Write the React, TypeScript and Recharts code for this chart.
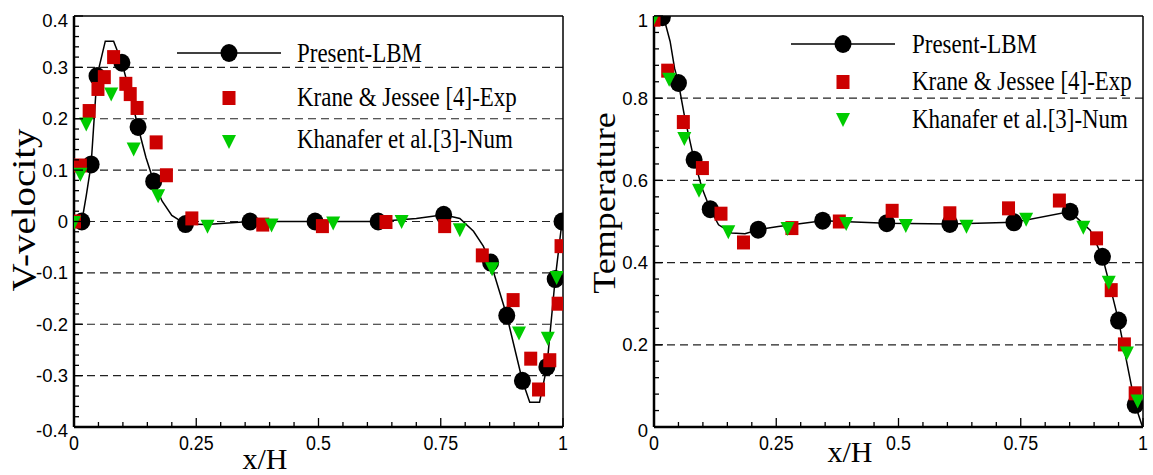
import React from 'react';
import { ScatterChart, Scatter, XAxis, YAxis, ReferenceLine, Legend } from 'recharts';

type Pt = [number, number];

// ---- V-velocity panel (left) ----
const vLbmMarks: Pt[] = [
  [0.016, 0], [0.035, 0.111], [0.047, 0.283], [0.098, 0.309], [0.131, 0.184],
  [0.163, 0.078], [0.228, -0.005], [0.36, 0], [0.493, 0], [0.622, 0],
  [0.756, 0.013], [0.852, -0.08], [0.885, -0.183], [0.917, -0.31], [0.967, -0.283],
  [0.984, -0.112], [0.998, 0],
];
const vLbmCurve: Pt[] = [
  [0.016, 0], [0.025, 0.05], [0.035, 0.111], [0.047, 0.283], [0.064, 0.351],
  [0.081, 0.351], [0.098, 0.309], [0.115, 0.248], [0.131, 0.184], [0.147, 0.125],
  [0.163, 0.078], [0.18, 0.04], [0.2, 0.012], [0.228, -0.005], [0.27, -0.006],
  [0.36, 0], [0.493, 0], [0.622, 0], [0.7, 0.006], [0.756, 0.013], [0.789, 0.006],
  [0.817, -0.019], [0.837, -0.048], [0.852, -0.08], [0.885, -0.183], [0.917, -0.31],
  [0.932, -0.352], [0.952, -0.352], [0.967, -0.283], [0.984, -0.112], [0.998, 0],
];
const vKrane: Pt[] = [
  [0.001, 0], [0.013, 0.109], [0.031, 0.215], [0.049, 0.258], [0.062, 0.281],
  [0.081, 0.32], [0.106, 0.268], [0.115, 0.248], [0.129, 0.221], [0.168, 0.154],
  [0.189, 0.09], [0.241, 0.006], [0.386, -0.006], [0.508, -0.009], [0.638, -0.001],
  [0.758, -0.009], [0.835, -0.066], [0.898, -0.153], [0.934, -0.267], [0.95, -0.327],
  [0.973, -0.27], [0.99, -0.16], [0.996, -0.048],
];
const vKhanafer: Pt[] = [
  [0, -0.003], [0.013, 0.091], [0.025, 0.189], [0.076, 0.247], [0.122, 0.14],
  [0.172, 0.049], [0.273, -0.01], [0.404, -0.008], [0.53, -0.004], [0.67, -0.001],
  [0.789, -0.017], [0.855, -0.093], [0.91, -0.218], [0.969, -0.228], [0.987, -0.11],
];

// ---- Temperature panel (right) ----
const tLbmMarks: Pt[] = [
  [0.017, 0.997], [0.05, 0.837], [0.082, 0.65], [0.115, 0.53], [0.213, 0.48],
  [0.345, 0.502], [0.476, 0.496], [0.605, 0.494], [0.736, 0.498], [0.851, 0.524],
  [0.917, 0.414], [0.95, 0.259], [0.984, 0.054],
];
const tLbmCurve: Pt[] = [
  [0.005, 1], [0.017, 0.997], [0.022, 0.987], [0.033, 0.938], [0.042, 0.873],
  [0.05, 0.837], [0.063, 0.752], [0.082, 0.65], [0.098, 0.582], [0.115, 0.53],
  [0.132, 0.492], [0.159, 0.472], [0.186, 0.47], [0.213, 0.48], [0.254, 0.488],
  [0.282, 0.492], [0.345, 0.502], [0.476, 0.496], [0.605, 0.494], [0.736, 0.498],
  [0.851, 0.524], [0.892, 0.479], [0.917, 0.414], [0.933, 0.341], [0.95, 0.259],
  [0.984, 0.054], [0.999, 0],
];
const tKrane: Pt[] = [
  [0, 0.991], [0.028, 0.867], [0.06, 0.742], [0.099, 0.63], [0.137, 0.519],
  [0.183, 0.449], [0.282, 0.484], [0.379, 0.5], [0.487, 0.526], [0.605, 0.52],
  [0.725, 0.532], [0.829, 0.551], [0.905, 0.459], [0.935, 0.333], [0.962, 0.201],
  [0.984, 0.082],
];
const tKhanafer: Pt[] = [
  [0, 0.995], [0.031, 0.845], [0.062, 0.701], [0.092, 0.575], [0.152, 0.474],
  [0.273, 0.482], [0.393, 0.494], [0.515, 0.489], [0.639, 0.487], [0.761, 0.504],
  [0.878, 0.485], [0.93, 0.351], [0.967, 0.179], [0.989, 0.062],
];

const xMajor = [0, 0.25, 0.5, 0.75, 1];
const vMajor = [-0.4, -0.3, -0.2, -0.1, 0, 0.1, 0.2, 0.3, 0.4];
const tMajor = [0, 0.2, 0.4, 0.6, 0.8, 1];
const seriesNames = ['Present-LBM', 'Krane & Jessee [4]-Exp', 'Khanafer et al.[3]-Num'];

const RED = '#cc0000';
const GREEN = '#00cc00';
const SERIF = "'Liberation Serif', 'Times New Roman', serif";
const SANS = "'Liberation Sans', Arial, sans-serif";
const PLOT_LEFT = 74;
const PLOT_TOP = 16;
const PLOT_BOTTOM = 427;

const toXY = (pts: Pt[]) => pts.map(([x, y]) => ({ x, y }));

function withMinor(major: number[], parts: number) {
  const out: number[] = [];
  for (let i = 0; i < major.length - 1; i++) {
    const step = (major[i + 1] - major[i]) / parts;
    for (let k = 0; k < parts; k++) out.push(+(major[i] + k * step).toFixed(4));
  }
  out.push(major[major.length - 1]);
  return out;
}
const isIn = (list: number[], v: number) => list.some((m) => Math.abs(m - v) < 1e-6);

const fmtX = (v: number) => (v === 0 ? '0' : v === 1 ? '1' : String(v));
const fmtY = (v: number) => (Math.abs(v) < 1e-9 ? '0' : Math.abs(v - 1) < 1e-9 ? '1' : v.toFixed(1));

// markers
const Dot = (p: any) => <ellipse cx={p.cx} cy={p.cy} rx={8.5} ry={9} fill="#000" />;
const Sq = (p: any) => <rect x={p.cx - 6.5} y={p.cy - 7} width={13} height={14} fill={RED} />;
const Tri = (p: any) => (
  <polygon points={`${p.cx - 7},${p.cy - 7} ${p.cx + 7},${p.cy - 7} ${p.cx},${p.cy + 7}`} fill={GREEN} />
);
const NoMark = () => <g />;

const XTick = (p: any) => {
  const v = p.payload.value;
  const x = p.x;
  const major = isIn(xMajor, v);
  return (
    <g>
      <line x1={x} x2={x} y1={PLOT_BOTTOM} y2={PLOT_BOTTOM - (major ? 9 : 5)} stroke="#000" strokeWidth={1.3} />
      {major && (
        <text transform={`translate(${x} ${PLOT_BOTTOM + 23}) scale(0.85 1)`} textAnchor="middle"
          fontFamily={SANS} fontSize={21} fill="#000">{fmtX(v)}</text>
      )}
    </g>
  );
};

const makeYTick = (majors: number[]) => (p: any) => {
  const v = p.payload.value;
  const y = p.y;
  const major = isIn(majors, v);
  const lo = majors[0];
  const hi = majors[majors.length - 1];
  const dy = Math.abs(v - hi) < 1e-6 ? 10.5 : Math.abs(v - lo) < 1e-6 ? 10 : 6.6;
  return (
    <g>
      <line x1={PLOT_LEFT} x2={PLOT_LEFT + (major ? 9 : 5)} y1={y} y2={y} stroke="#000" strokeWidth={1.3} />
      {major && (
        <text x={PLOT_LEFT - 6} y={y + dy} textAnchor="end" fontFamily={SANS} fontSize={18.5} fill="#000">
          {fmtY(v)}
        </text>
      )}
    </g>
  );
};

const YTitle = ({ tx, ty, size, text }: any) => (
  <text transform={`translate(${tx} ${ty}) rotate(-90) scale(1 0.85)`} textAnchor="middle"
    fontFamily={SERIF} fontSize={size} fill="#000">{text}</text>
);
const XTitle = ({ tx, ty, text }: any) => (
  <text x={tx} y={ty} textAnchor="middle" fontFamily={SERIF} fontSize={30} fill="#000">{text}</text>
);

interface LegendPos { mx: number; rows: number[]; textX: number; base: number[] }

const LegendBox = ({ pos, width }: { pos: LegendPos; width: number }) => {
  const { mx, rows, textX, base } = pos;
  return (
    <svg width={width} height={170} style={{ display: 'block', overflow: 'visible' }}>
      <line x1={mx - 52} x2={mx + 52} y1={rows[0]} y2={rows[0]} stroke="#000" strokeWidth={1.5} />
      <Dot cx={mx} cy={rows[0]} />
      <Sq cx={mx} cy={rows[1]} />
      <Tri cx={mx} cy={rows[2]} />
      {seriesNames.map((name, i) => (
        <text key={name} transform={`translate(${textX} ${base[i]}) scale(0.85 1)`}
          fontFamily={SERIF} fontSize={27} fill="#000">{name}</text>
      ))}
    </svg>
  );
};

interface PanelProps {
  width: number;
  marginRight: number;
  yDomain: [number, number];
  yMajor: number[];
  yTitle: string;
  yTitleSize: number;
  yTitlePos: [number, number];
  xTitlePos: [number, number];
  legend: LegendPos;
  lbm: Pt[];
  curve: Pt[];
  krane: Pt[];
  khan: Pt[];
}

function Panel(props: PanelProps) {
  const { width, marginRight, yDomain, yMajor, legend } = props;
  const yTicks = withMinor(yMajor, 5);
  const xTicks = withMinor(xMajor, 5);
  const gridVals = yMajor.slice(1, -1);
  return (
    <ScatterChart width={width} height={475} margin={{ top: PLOT_TOP, right: marginRight, bottom: 0, left: 0 }}>
      <XAxis type="number" dataKey="x" domain={[0, 1]} ticks={xTicks} interval={0} tick={XTick}
        tickLine={false} axisLine={{ stroke: '#000', strokeWidth: 2.5 }} height={48} allowDataOverflow
        label={<XTitle tx={props.xTitlePos[0]} ty={props.xTitlePos[1]} text="x/H" />} />
      <YAxis type="number" dataKey="y" domain={yDomain} ticks={yTicks} interval={0} tick={makeYTick(yMajor)}
        tickLine={false} axisLine={{ stroke: '#000', strokeWidth: 2.5 }} width={74} allowDataOverflow
        label={<YTitle tx={props.yTitlePos[0]} ty={props.yTitlePos[1]} size={props.yTitleSize} text={props.yTitle} />} />
      {gridVals.map((v) => (
        <ReferenceLine key={v} y={v} stroke="#222" strokeWidth={1.2} strokeDasharray="8 5" />
      ))}
      <ReferenceLine y={yDomain[1]} stroke="#000" strokeWidth={1.5} />
      <ReferenceLine x={1} stroke="#000" strokeWidth={1.5} />
      <Legend layout="vertical" align="center" verticalAlign="middle"
        wrapperStyle={{ position: 'absolute', left: 0, top: 0, width, height: 170 }}
        content={() => <LegendBox pos={legend} width={width} />} />
      <Scatter name="curve" data={toXY(props.curve)} shape={NoMark} line={{ stroke: '#000', strokeWidth: 1.5 }}
        lineType="joint" isAnimationActive={false} legendType="none" />
      <Scatter name={seriesNames[0]} data={toXY(props.lbm)} shape={Dot} isAnimationActive={false} />
      <Scatter name={seriesNames[1]} data={toXY(props.krane)} shape={Sq} isAnimationActive={false} />
      <Scatter name={seriesNames[2]} data={toXY(props.khan)} shape={Tri} isAnimationActive={false} />
    </ScatterChart>
  );
}

export default function App() {
  return (
    <div style={{ position: 'absolute', left: 0, top: 0, width: 1153, height: 475, background: '#fff', overflow: 'hidden' }}>
      <div style={{ position: 'absolute', left: 0, top: 0 }}>
        <Panel width={580} marginRight={17} yDomain={[-0.4, 0.4]} yMajor={vMajor}
          yTitle="V-velocity" yTitleSize={39} yTitlePos={[35, 210]} xTitlePos={[265, 469]}
          legend={{ mx: 229, rows: [53, 98, 142], textX: 297, base: [62, 106, 148] }}
          lbm={vLbmMarks} curve={vLbmCurve} krane={vKrane} khan={vKhanafer} />
      </div>
      <div style={{ position: 'absolute', left: 580, top: 0 }}>
        <Panel width={573} marginRight={10} yDomain={[0, 1]} yMajor={tMajor}
          yTitle="Temperature" yTitleSize={36} yTitlePos={[35, 203]} xTitlePos={[270, 462]}
          legend={{ mx: 263, rows: [44, 82, 120], textX: 332, base: [53, 90, 128] }}
          lbm={tLbmMarks} curve={tLbmCurve} krane={tKrane} khan={tKhanafer} />
      </div>
    </div>
  );
}
